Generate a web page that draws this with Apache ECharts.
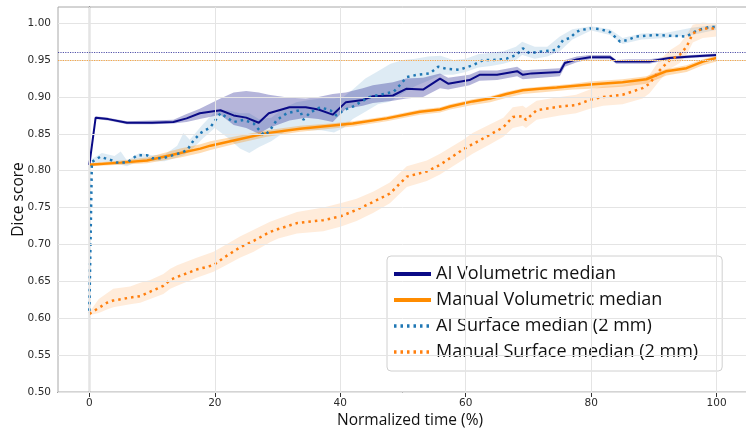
<!DOCTYPE html>
<html>
<head>
<meta charset="utf-8">
<script src="https://cdn.jsdelivr.net/npm/echarts@6/dist/echarts.min.js"></script>
<style>html,body{margin:0;padding:0;background:#fff}#c{width:746px;height:436px}</style>
</head>
<body>
<div id="c"></div>
<script>
// ---- data ----
const xTicks = [0, 20, 40, 60, 80, 100];
const yTicks = [0.50, 0.55, 0.60, 0.65, 0.70, 0.75, 0.80, 0.85, 0.90, 0.95, 1.00];

const aiVolX = [0, 1, 3, 6, 10, 13.4, 15.5, 17.6, 20.9, 23, 25, 27, 28.6, 31.9, 34.5, 36.5, 38.8, 40.9, 43.6, 45.2, 48.4, 50.5, 53.2, 55.9, 57.2, 60.6, 62.2, 65, 68.2, 69.1, 70.5, 75, 75.8, 77.7, 79.8, 83, 84, 86, 89.3, 92.5, 96, 100];
const aiVol = [0.808, 0.872, 0.870, 0.865, 0.865, 0.866, 0.871, 0.878, 0.882, 0.875, 0.872, 0.865, 0.878, 0.886, 0.886, 0.883, 0.876, 0.893, 0.896, 0.901, 0.902, 0.911, 0.910, 0.925, 0.918, 0.923, 0.930, 0.930, 0.935, 0.930, 0.932, 0.934, 0.946, 0.951, 0.954, 0.954, 0.948, 0.948, 0.948, 0.953, 0.955, 0.957];
const aiVolLow = [0.806, 0.870, 0.868, 0.863, 0.863, 0.864, 0.866, 0.870, 0.876, 0.862, 0.858, 0.850, 0.858, 0.868, 0.872, 0.870, 0.866, 0.884, 0.888, 0.892, 0.895, 0.898, 0.900, 0.912, 0.910, 0.916, 0.922, 0.923, 0.928, 0.924, 0.925, 0.928, 0.941, 0.947, 0.951, 0.951, 0.945, 0.945, 0.945, 0.951, 0.953, 0.955];
const aiVolHigh = [0.810, 0.874, 0.872, 0.867, 0.868, 0.869, 0.877, 0.884, 0.898, 0.906, 0.908, 0.906, 0.903, 0.899, 0.898, 0.900, 0.904, 0.906, 0.912, 0.916, 0.920, 0.925, 0.926, 0.932, 0.926, 0.930, 0.936, 0.936, 0.941, 0.936, 0.937, 0.939, 0.950, 0.955, 0.957, 0.957, 0.950, 0.951, 0.951, 0.955, 0.957, 0.959];

const manVolX = [0, 5, 9.2, 14.5, 17.7, 19.3, 23, 28.3, 33.6, 38.4, 42, 47.4, 52.7, 55.9, 57.5, 61.1, 63.9, 66.5, 69.1, 71.8, 74.5, 77.1, 79.8, 85, 88.8, 92, 95.2, 97.8, 100];
const manVol = [0.808, 0.811, 0.814, 0.824, 0.830, 0.834, 0.841, 0.851, 0.857, 0.861, 0.864, 0.871, 0.880, 0.883, 0.887, 0.894, 0.898, 0.904, 0.909, 0.911, 0.913, 0.915, 0.917, 0.920, 0.924, 0.935, 0.939, 0.948, 0.953];
const manVolLow = [0.806, 0.808, 0.810, 0.818, 0.824, 0.828, 0.836, 0.846, 0.853, 0.857, 0.860, 0.867, 0.876, 0.879, 0.883, 0.889, 0.893, 0.899, 0.904, 0.906, 0.908, 0.910, 0.911, 0.914, 0.918, 0.929, 0.934, 0.943, 0.948];
const manVolHigh = [0.810, 0.814, 0.818, 0.830, 0.836, 0.840, 0.846, 0.855, 0.861, 0.864, 0.867, 0.874, 0.883, 0.886, 0.890, 0.897, 0.901, 0.907, 0.912, 0.914, 0.916, 0.918, 0.921, 0.924, 0.928, 0.938, 0.943, 0.951, 0.956];

const aiSurfX = [0, 0.4, 1.75, 2.8, 3.6, 4.4, 6, 6.8, 7.6, 9.2, 10, 11.8, 12.9, 14.5, 15.6, 16.6, 17.7, 19.3, 20.9, 23, 24.6, 26.2, 27.5, 28, 28.8, 29.9, 31.5, 33.6, 34.1, 35.2, 36.8, 38.4, 39.4, 40.5, 42, 44.7, 47.4, 48.5, 49.5, 50.6, 52.2, 54.3, 55.6, 57, 59, 61.1, 62.8, 64.4, 66.5, 68.1, 69.1, 70.2, 71.3, 74.5, 75.5, 76.6, 77.6, 78.2, 79.8, 81.4, 83, 84.6, 85.7, 87.2, 90.4, 95.2, 96.8, 98.9, 100];
const aiSurf = [0.610, 0.812, 0.819, 0.816, 0.814, 0.811, 0.811, 0.816, 0.821, 0.821, 0.817, 0.817, 0.820, 0.824, 0.828, 0.841, 0.851, 0.859, 0.878, 0.866, 0.869, 0.864, 0.851, 0.848, 0.855, 0.869, 0.878, 0.882, 0.869, 0.879, 0.886, 0.882, 0.875, 0.882, 0.887, 0.900, 0.905, 0.907, 0.916, 0.927, 0.930, 0.932, 0.941, 0.938, 0.937, 0.943, 0.950, 0.950, 0.952, 0.957, 0.966, 0.959, 0.961, 0.964, 0.977, 0.980, 0.988, 0.9905, 0.993, 0.992, 0.988, 0.975, 0.977, 0.982, 0.984, 0.982, 0.990, 0.995, 0.995];
const aiSurfBandX = [0, 0.4, 2, 4, 5, 6, 8, 10, 12, 14, 15, 16, 18, 20, 22, 24, 25.5, 27, 29, 31, 33, 35, 37, 39, 40.5, 42, 44, 46, 48, 50, 52, 54, 56, 58, 60, 62, 64, 66, 68, 69, 71, 73, 75, 77, 80, 83, 85, 88, 92, 96, 100];
const aiSurfLow = [0.605, 0.806, 0.812, 0.809, 0.808, 0.806, 0.814, 0.813, 0.813, 0.818, 0.821, 0.826, 0.843, 0.858, 0.845, 0.830, 0.824, 0.832, 0.840, 0.852, 0.858, 0.855, 0.855, 0.852, 0.858, 0.870, 0.880, 0.890, 0.894, 0.905, 0.915, 0.922, 0.930, 0.930, 0.934, 0.940, 0.942, 0.945, 0.950, 0.957, 0.952, 0.955, 0.962, 0.978, 0.990, 0.984, 0.972, 0.978, 0.980, 0.984, 0.991];
const aiSurfHigh = [0.615, 0.816, 0.824, 0.820, 0.826, 0.814, 0.824, 0.821, 0.822, 0.834, 0.851, 0.842, 0.862, 0.880, 0.882, 0.878, 0.878, 0.870, 0.872, 0.885, 0.893, 0.896, 0.898, 0.898, 0.900, 0.910, 0.925, 0.935, 0.945, 0.950, 0.952, 0.955, 0.956, 0.950, 0.952, 0.958, 0.960, 0.962, 0.968, 0.975, 0.968, 0.968, 0.982, 0.992, 0.996, 0.992, 0.980, 0.986, 0.987, 0.994, 0.998];

const manSurfX = [0, 1.5, 2.8, 3.8, 6.5, 8.1, 9.7, 11.8, 12.9, 14, 17.1, 19.8, 21.4, 24, 26.2, 28.8, 30.1, 33.1, 37.3, 40, 42.6, 45.3, 47.9, 50.6, 53.8, 55.9, 59.6, 61.1, 63.9, 66, 67.5, 69.1, 69.6, 71.3, 75, 77.6, 79.8, 81.9, 85, 88.2, 89.3, 90.9, 92.5, 94.1, 95.2, 96.2, 97.8, 100];
const manSurf = [0.606, 0.614, 0.621, 0.624, 0.628, 0.630, 0.636, 0.644, 0.652, 0.656, 0.666, 0.672, 0.682, 0.696, 0.705, 0.717, 0.721, 0.729, 0.733, 0.738, 0.747, 0.758, 0.769, 0.792, 0.799, 0.808, 0.829, 0.836, 0.849, 0.859, 0.873, 0.874, 0.869, 0.882, 0.887, 0.889, 0.896, 0.900, 0.903, 0.912, 0.918, 0.936, 0.950, 0.957, 0.968, 0.986, 0.993, 0.993];
const manSurfLow = [0.604, 0.607, 0.612, 0.615, 0.619, 0.621, 0.626, 0.633, 0.640, 0.644, 0.655, 0.663, 0.670, 0.682, 0.690, 0.703, 0.708, 0.715, 0.718, 0.724, 0.732, 0.743, 0.756, 0.778, 0.786, 0.795, 0.815, 0.823, 0.836, 0.846, 0.858, 0.861, 0.858, 0.869, 0.875, 0.878, 0.884, 0.888, 0.890, 0.898, 0.905, 0.922, 0.938, 0.946, 0.957, 0.974, 0.980, 0.982];
const manSurfHigh = [0.608, 0.626, 0.634, 0.640, 0.643, 0.648, 0.652, 0.660, 0.667, 0.672, 0.682, 0.690, 0.698, 0.711, 0.720, 0.731, 0.735, 0.744, 0.750, 0.756, 0.762, 0.772, 0.784, 0.806, 0.814, 0.823, 0.842, 0.851, 0.863, 0.872, 0.886, 0.888, 0.885, 0.895, 0.900, 0.903, 0.910, 0.914, 0.916, 0.924, 0.930, 0.950, 0.963, 0.972, 0.984, 0.998, 1.001, 0.999];

const aiVolRef = 0.957;   // horizontal dotted reference (AI volumetric final)
const manVolRef = 0.952;  // horizontal dotted reference (manual volumetric final)

const names = ['AI Volumetric median', 'Manual Volumetric median', 'AI Surface median (2 mm)', 'Manual Surface median (2 mm)'];

// ---- colours / styles ----
const NAVY = '#0a0a86', DORANGE = '#ff8c00', BLUE = '#1f77b4', ORANGE = '#ff7f0e';
const DOT = [2.5, 4];

function pairs(xs, ys) { return xs.map((x, i) => [x, ys[i]]); }

// shaded band between lo and hi, drawn through the axes' coordinate system
function band(xs, lo, hi, color, opacity) {
  return {
    type: 'custom', silent: true, z: 1,
    data: pairs(xs, lo).concat(pairs(xs, hi)),
    encode: { x: 0, y: 1 },
    renderItem: function (params, api) {
      if (params.dataIndex !== 0) return null;
      const top = xs.map((x, i) => api.coord([x, hi[i]]));
      const bot = xs.map((x, i) => api.coord([x, lo[i]])).reverse();
      return {
        type: 'polygon',
        shape: { points: top.concat(bot) },
        style: { fill: color, opacity: opacity, stroke: null }
      };
    }
  };
}

const chart = echarts.init(document.getElementById('c'), null, { renderer: 'canvas' });

const gridLineStyle = { color: '#e4e4e4', width: 1, type: 'solid' };

const option = {
  animation: false,
  backgroundColor: '#fff',
  grid: { left: 58, right: -2, top: 7, bottom: 44, show: true, borderColor: '#a8a8a8', borderWidth: 1,
    backgroundColor: 'transparent', containLabel: false, outerBoundsMode: 'none' },
  xAxis: {
    type: 'value', min: -5, max: 105,
    name: 'Normalized time (%)', nameLocation: 'middle', nameGap: 21, nameMoveOverlap: false,
    nameTextStyle: { fontFamily: 'Open Sans', fontSize: 15.5, color: '#111', padding: [0, 0, 0, 14] },
    axisLine: { show: true, lineStyle: { color: '#333', width: 1.2 } },
    axisTick: { show: true, customValues: xTicks, length: 5, lineStyle: { color: '#333' } },
    axisLabel: { customValues: xTicks, fontFamily: 'DejaVu Sans', fontSize: 10.5, color: '#2a2a2a', margin: 6 },
    splitLine: { show: false }
  },
  yAxis: {
    type: 'value', min: 0.5, max: 1.022,
    name: 'Dice score', nameLocation: 'middle', nameGap: 31, nameRotate: 90, nameMoveOverlap: false,
    nameTextStyle: { fontFamily: 'Open Sans', fontSize: 15.5, color: '#111' },
    axisLine: { show: true, lineStyle: { color: '#333', width: 1.2 } },
    axisTick: { show: true, customValues: yTicks, length: 5, lineStyle: { color: '#333' } },
    axisLabel: { customValues: yTicks, fontFamily: 'DejaVu Sans', fontSize: 10.5, color: '#2a2a2a', margin: 7,
      formatter: v => v.toFixed(2) },
    splitLine: { show: false }
  },
  legend: {
    data: names.map((n, i) => ({
      name: n,
      itemStyle: { opacity: 0 },
      lineStyle: { width: i < 2 ? 4 : 3.5 }
    })),
    orient: 'vertical', left: 387, top: 256,
    itemWidth: 37, itemHeight: 14, itemGap: 8, itemTextGap: 8,
    padding: [9, 24, 10, 5],
    backgroundColor: 'rgba(255,255,255,0.85)', borderColor: '#d0d0d0', borderWidth: 1, borderRadius: 4,
    textStyle: { fontFamily: 'Open Sans', fontSize: 18, lineHeight: 17, color: '#111' }
  },
  series: [
    // grid lines (via markLine on an empty helper series)
    { type: 'line', name: '_grid', data: [], silent: true, z: 0,
      markLine: { silent: true, symbol: 'none', label: { show: false }, lineStyle: gridLineStyle, animation: false,
        data: xTicks.map(v => ({ xAxis: v })).concat(yTicks.map(v => ({ yAxis: v }))) } },
    band(aiSurfBandX, aiSurfLow, aiSurfHigh, BLUE, 0.15),
    band(aiVolX, aiVolLow, aiVolHigh, NAVY, 0.3),
    band(manVolX, manVolLow, manVolHigh, DORANGE, 0.3),
    band(manSurfX, manSurfLow, manSurfHigh, ORANGE, 0.15),
    { type: 'line', name: names[0], data: pairs(aiVolX, aiVol), symbol: 'none', z: 3,
      color: NAVY, lineStyle: { color: NAVY, width: 2 },
      markLine: { silent: true, symbol: 'none', label: { show: false }, animation: false,
        lineStyle: { color: NAVY, width: 1, type: [1.2, 1.2], opacity: 0.7 }, data: [{ yAxis: aiVolRef }] } },
    { type: 'line', name: names[1], data: pairs(manVolX, manVol), symbol: 'none', z: 3,
      color: DORANGE, lineStyle: { color: DORANGE, width: 2.5 },
      markLine: { silent: true, symbol: 'none', label: { show: false }, animation: false,
        lineStyle: { color: DORANGE, width: 1, type: [1.2, 1.2], opacity: 0.7 }, data: [{ yAxis: manVolRef }] } },
    { type: 'line', name: names[2], data: pairs(aiSurfX, aiSurf), symbol: 'none', z: 4,
      color: BLUE, lineStyle: { color: BLUE, width: 2.5, type: DOT, cap: 'butt' } },
    { type: 'line', name: names[3], data: pairs(manSurfX, manSurf), symbol: 'none', z: 4,
      color: ORANGE, lineStyle: { color: ORANGE, width: 2.5, type: DOT, cap: 'butt' } }
  ]
};
chart.setOption(option);
</script>
</body>
</html>
